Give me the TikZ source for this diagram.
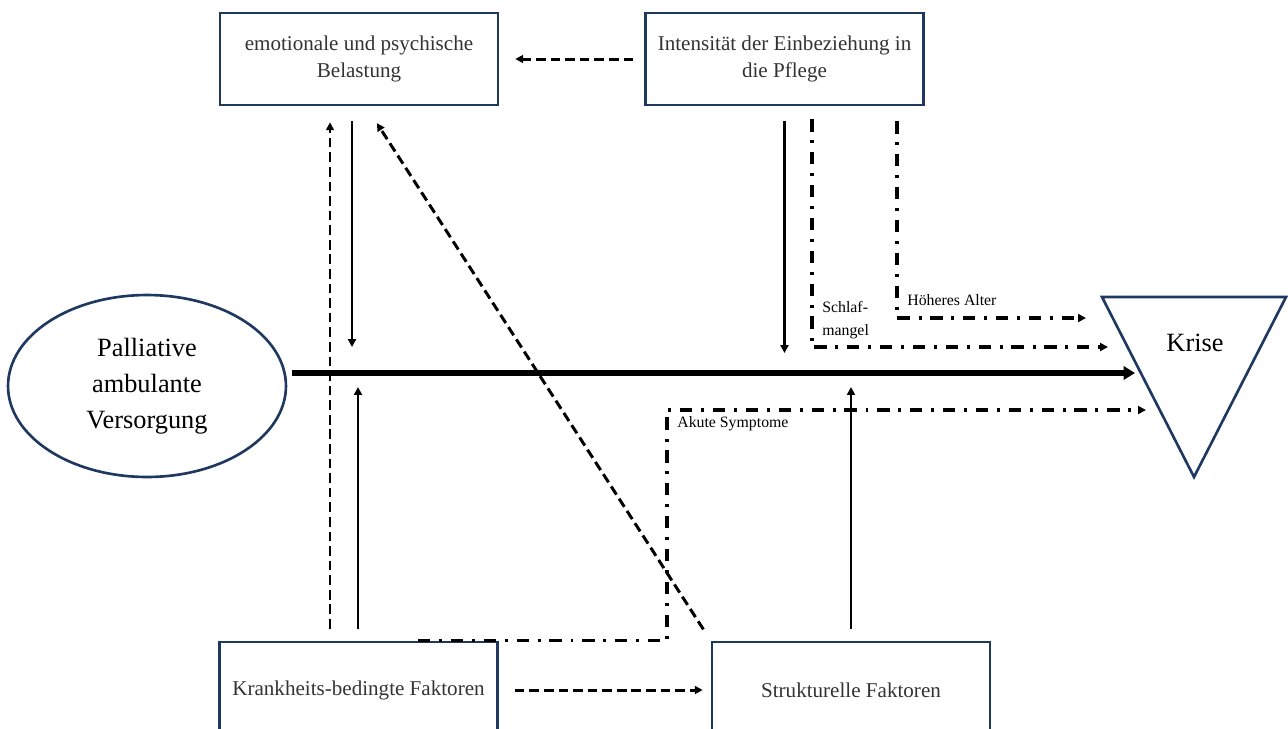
\documentclass[tikz,border=0pt]{standalone}
\usepackage{fontspec}
\setmainfont{Liberation Serif}
\usetikzlibrary{arrows.meta,calc,shapes.geometric}
\definecolor{boxnavy}{RGB}{31,56,96}

\begin{document}
\begin{tikzpicture}[x=0.02cm, y=-0.02cm,
		box/.style={draw=boxnavy, line width=1.5pt, minimum width=5.56cm, minimum height=1.84cm, align=center, inner sep=0pt, text=black!80, font=\fontsize{12}{15.3}\selectfont},
		lbl/.style={inner sep=0pt, anchor=west, align=left, font=\fontsize{9}{13}\selectfont},
		solidarr/.style={line width=1.3pt, -{Triangle[length=4.5pt,width=4.5pt]}},
		dasharr/.style={solidarr, line width=1.7pt, dash pattern=on 5.5pt off 2.8pt},
		dotarr/.style={solidarr, line width=1.8pt, dash pattern=on 7pt off 5pt on 1.7pt off 5pt},
		mainline/.style={line width=3.4pt, -{Triangle[length=6.5pt,width=7.5pt]}}]
			%%%%% START %%%%%
			\useasboundingbox (0,0) rectangle (1288,728);
			\clip (0,0) rectangle (1288,728);
			
			\node[box] (emo) at (359,59) {emotionale und psychische\\Belastung};
			\node[box] (int) at (784.5,59) {Intensität der Einbeziehung in\\die Pflege};
			\node[box, minimum height=1.92cm] (krank) at (358.5,690) {Krankheits-bedingte Faktoren};
			\node[box, minimum height=1.92cm] (struk) at (851,690) {Strukturelle Faktoren};
			
			\node[ellipse, draw=boxnavy, line width=1.5pt, minimum width=5.56cm, minimum height=3.64cm, align=center, inner sep=0pt, font=\fontsize{15}{20.4}\selectfont] (pall) at (147,386) {Palliative\\ambulante\\Versorgung};
			
			\draw[draw=boxnavy, line width=1.5pt] (1102,297) -- (1286,297) -- (1194,477) -- cycle;
			\node[font=\fontsize{15}{18}\selectfont] (krise) at (1195,343) {Krise};
			
			\coordinate (axisL) at (292,373);
			\coordinate (axisR) at (1135,373);
			\coordinate (schlaf) at (1108,347);
			\coordinate (alter) at (1086,318);
			\coordinate (akute) at (1146,410);
			
			% upper factors
			\draw[dasharr, shorten <=0.22cm, shorten >=0.32cm] (int.west) -- (emo.east);
			\draw[solidarr, shorten <=0.3cm, shorten >=0.52cm] (emo.south -| 352,0) -- (axisL -| 352,0);
			\draw[solidarr, shorten <=0.3cm, shorten >=0.4cm] (int.south) -- (axisL -| int.south);
			\draw[dotarr, shorten <=0.26cm] (int.south -| 812,0) |- (schlaf);
			\draw[dotarr, shorten <=0.3cm] (int.south -| 897,0) |- (alter);
			\node[lbl] (schlaflbl) at (822,320) {Schlaf-\\mangel};
			\node[lbl] (alterlbl) at (907,300) {Höheres Alter};
			
			% lower factors
			\draw[dasharr, shorten <=0.24cm, shorten >=0.32cm] (krank.north -| 330,0) -- (emo.south -| 330,0);
			\draw[solidarr, shorten <=0.24cm, shorten >=0.28cm] (krank.north -| 358,0) -- (axisL -| 358,0);
			\draw[dasharr, shorten <=0.27cm, shorten >=0.4cm] (struk.north west) -- ([xshift=0.14cm]emo.south);
			\draw[solidarr, shorten <=0.24cm, shorten >=0.28cm] (struk.north) -- (axisL -| struk.north);
			\draw[dotarr] (krank.north -| 418,0) -- (krank.north -| 667,0) |- (akute);
			\node[lbl] (akutelbl) at (677,424) {Akute Symptome};
			\draw[dasharr, shorten <=0.32cm, shorten >=0.16cm] (krank.east) -- (struk.west);
			
			\draw[mainline] (axisL) -- (axisR);
			%%%%% END %%%%%
\end{tikzpicture}
\end{document}
